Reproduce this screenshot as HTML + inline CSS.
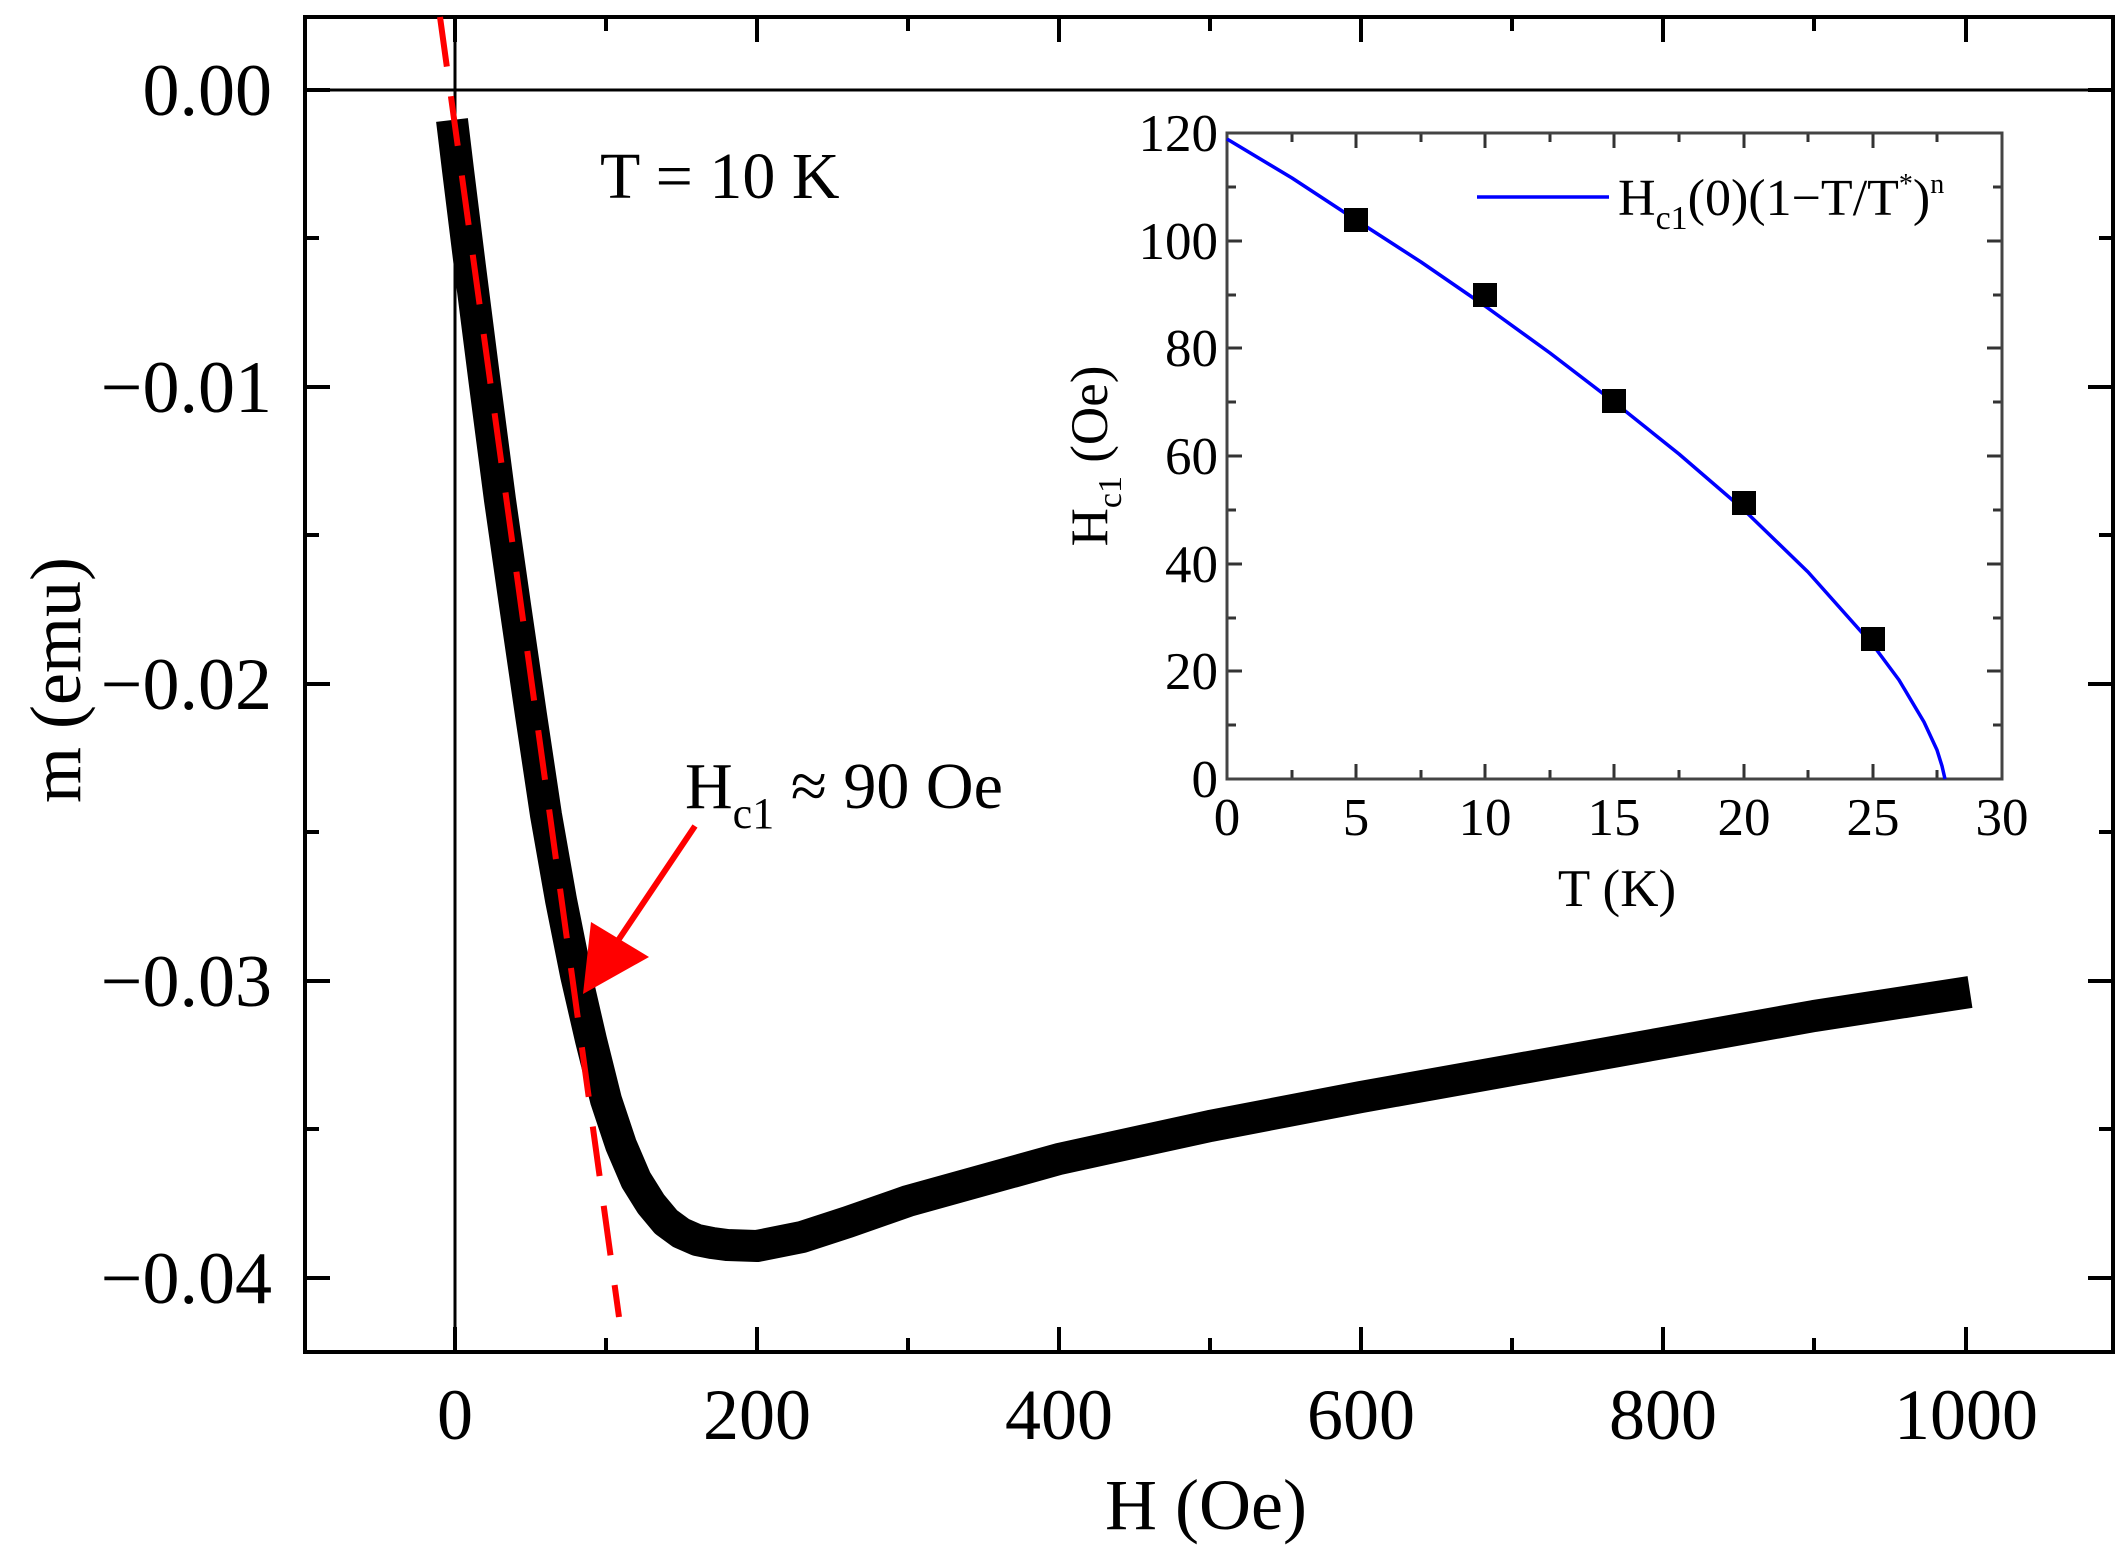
<!DOCTYPE html>
<html><head><meta charset="utf-8"><style>html,body{margin:0;padding:0;background:#fff}svg{display:block}</style></head>
<body>
<svg width="2125" height="1556" viewBox="0 0 2125 1556" xmlns="http://www.w3.org/2000/svg" font-family="Liberation Serif, serif">
<rect width="2125" height="1556" fill="#fff"/>
<g id="main">
<line x1="305" y1="90" x2="2113" y2="90" stroke="#000" stroke-width="3"/>
<line x1="455" y1="17" x2="455" y2="1352" stroke="#000" stroke-width="3"/>
<g stroke="#000" stroke-width="4">
<path d="M455 1352v-25M757 1352v-25M1059 1352v-25M1361 1352v-25M1663 1352v-25M1966 1352v-25M606 1352v-14M908 1352v-14M1210 1352v-14M1512 1352v-14M1814 1352v-14"/>
<path d="M455 17v25M757 17v25M1059 17v25M1361 17v25M1663 17v25M1966 17v25M606 17v14M908 17v14M1210 17v14M1512 17v14M1814 17v14"/>
<path d="M305 90h25M305 387h25M305 684h25M305 981h25M305 1278h25M305 238h14M305 535h14M305 832h14M305 1129h14"/>
<path d="M2113 90h-25M2113 387h-25M2113 684h-25M2113 981h-25M2113 1278h-25M2113 238h-14M2113 535h-14M2113 832h-14M2113 1129h-14"/>
</g>
<rect x="305" y="17" width="1808" height="1335" fill="none" stroke="#000" stroke-width="4"/>
<polyline fill="none" stroke="#000" stroke-width="32" stroke-linejoin="round" stroke-linecap="butt"
points="452,120 458,170 470,267 485,385 500,500 515,605 531,715 546,815 561,900 576,975 591,1040 606,1100 621,1145 636,1180 651,1204 666,1222 681,1233 697,1240 712,1243 727,1245 757,1246 802,1237 848,1222 908,1201 1059,1159 1210,1126 1361,1097 1512,1070 1663,1043 1814,1016 1970,992"/>
<line x1="440" y1="17" x2="619" y2="1317" stroke="#ff0000" stroke-width="6" stroke-dasharray="50,30"/>
<line x1="695" y1="826" x2="615" y2="945" stroke="#ff0000" stroke-width="6"/>
<polygon points="583,994 591,922 649,957" fill="#ff0000"/>
<text x="600" y="198" font-size="66">T = 10 K</text>
<text x="685" y="808" font-size="66">H<tspan font-size="44" dy="20">c1</tspan><tspan dy="-20"> ≈ 90 Oe</tspan></text>
<g font-size="74" text-anchor="end">
<text x="272" y="115">0.00</text>
<text x="272" y="412">−0.01</text>
<text x="272" y="709">−0.02</text>
<text x="272" y="1006">−0.03</text>
<text x="272" y="1303">−0.04</text>
</g>
<g font-size="72" text-anchor="middle">
<text x="455" y="1439">0</text>
<text x="757" y="1439">200</text>
<text x="1059" y="1439">400</text>
<text x="1361" y="1439">600</text>
<text x="1663" y="1439">800</text>
<text x="1966" y="1439">1000</text>
<text x="1206" y="1529">H (Oe)</text>
<text transform="translate(80,680) rotate(-90)">m (emu)</text>
</g>
</g>
<g id="inset">
<g stroke="#333" stroke-width="3">
<path d="M1227 779v-15M1356 779v-15M1485 779v-15M1614 779v-15M1744 779v-15M1873 779v-15M1292 779v-9M1421 779v-9M1550 779v-9M1679 779v-9M1808 779v-9M1937 779v-9"/>
<path d="M1227 133v15M1356 133v15M1485 133v15M1614 133v15M1744 133v15M1873 133v15M1292 133v9M1421 133v9M1550 133v9M1679 133v9M1808 133v9M1937 133v9"/>
<path d="M1227 779h15M1227 671h15M1227 564h15M1227 456h15M1227 348h15M1227 241h15M1227 133h15M1227 725h9M1227 618h9M1227 510h9M1227 402h9M1227 295h9M1227 187h9"/>
<path d="M2002 779h-15M2002 671h-15M2002 564h-15M2002 456h-15M2002 348h-15M2002 241h-15M2002 725h-9M2002 618h-9M2002 510h-9M2002 402h-9M2002 295h-9M2002 187h-9"/>
</g>
<rect x="1227" y="133" width="775" height="646" fill="none" stroke="#444" stroke-width="3"/>
<polyline fill="none" stroke="#0000ff" stroke-width="3.5" stroke-linejoin="round" points="1227,139 1292,178 1356,220 1421,262 1485,306 1550,353 1614,402 1679,454 1744,510 1808,572 1873,645 1899,680 1924,722 1937,750 1942,766 1945,779"/>
<g fill="#000">
<rect x="1344" y="208" width="24" height="24"/>
<rect x="1473" y="283" width="24" height="24"/>
<rect x="1602" y="389" width="24" height="24"/>
<rect x="1732" y="491" width="24" height="24"/>
<rect x="1861" y="627" width="24" height="24"/>
</g>
<line x1="1477" y1="197" x2="1609" y2="197" stroke="#0000ff" stroke-width="3.5"/>
<text x="1618" y="215" font-size="52">H<tspan font-size="34" dy="14">c1</tspan><tspan dy="-14">(0)(1−T/T</tspan><tspan font-size="28" dy="-22">*</tspan><tspan dy="22">)</tspan><tspan font-size="28" dy="-22">n</tspan></text>
<g font-size="53" text-anchor="end">
<text x="1218" y="797">0</text>
<text x="1218" y="689">20</text>
<text x="1218" y="582">40</text>
<text x="1218" y="474">60</text>
<text x="1218" y="366">80</text>
<text x="1218" y="259">100</text>
<text x="1218" y="151">120</text>
</g>
<g font-size="53" text-anchor="middle">
<text x="1227" y="835">0</text>
<text x="1356" y="835">5</text>
<text x="1485" y="835">10</text>
<text x="1614" y="835">15</text>
<text x="1744" y="835">20</text>
<text x="1873" y="835">25</text>
<text x="2002" y="835">30</text>
<text x="1617" y="906">T (K)</text>
<text transform="translate(1107,456) rotate(-90)">H<tspan font-size="34" dy="14">c1</tspan><tspan dy="-14"> (Oe)</tspan></text>
</g>
</g>
</svg>
</body></html>
